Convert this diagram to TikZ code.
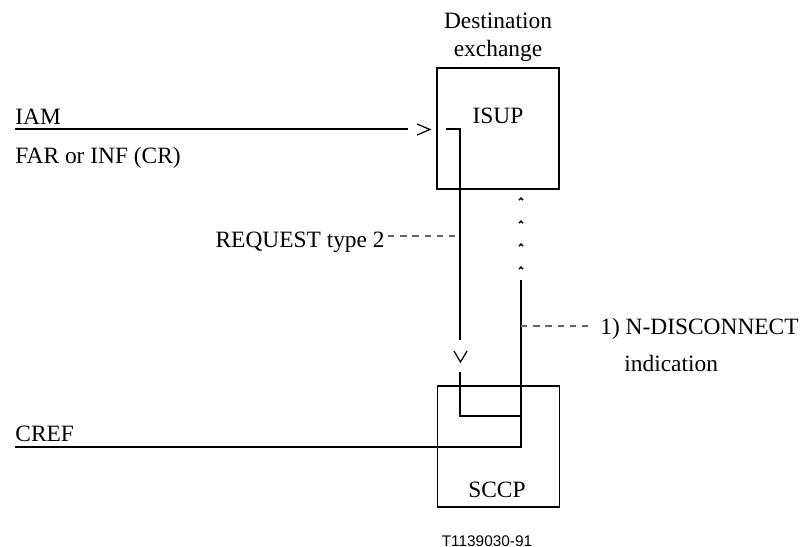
\documentclass[tikz,border=0pt]{standalone}
\usepackage{fontspec}
\setmainfont{Liberation Serif}
\newfontfamily\tagfont{Liberation Sans}
\usetikzlibrary{calc}

\begin{document}
\begin{tikzpicture}[x=0.5pt,y=-0.5pt,auto,
  every node/.style={font=\fontsize{11.7}{14}\selectfont,inner sep=0pt},
  blk/.style={draw,line width=0.7pt,minimum width=61pt,minimum height=60.5pt},
  sig/.style={line width=0.6pt},
  hint/.style={line width=0.6pt,draw=black!60,dash pattern=on 3.2pt off 2.9pt}]
\useasboundingbox (0,0) rectangle (805,547);

% the two boxes
\node[blk] (isup) at (498,128.5) {};
\node[blk] (sccp) at (498.5,446.5) {};
\node[anchor=base] (isup_lbl) at (498,123) {ISUP};
\node[anchor=base] (sccp_lbl) at (497,497) {SCCP};
\node[align=center] (dest) at ($ (isup.north) + (0,-30.5) $) {Destination\\exchange};

% incoming IAM
\coordinate (iam_a) at (15,129);
\coordinate (iam_b) at (408,129);
\node[anchor=base west] (iam) at (15,124) {IAM};
\node[anchor=base west] (far) at (15,163) {FAR or INF (CR)};
\draw[sig] (iam_a) to (iam_b);
\coordinate (gt) at (430,129.5);
\draw[sig] ($ (gt) + (-13,-5.5) $) -- (gt) -- ($ (gt) + (-13,5.5) $);

% ISUP down to SCCP
\coordinate (in_a) at (446,129);
\coordinate (in_b) at (460,129);
\coordinate (in_c) at (460,340);
\draw[sig] (in_a) -- (in_b) -- (in_c);
\coordinate (vee) at (460.5,362);
\draw[sig] ($ (vee) + (-6.5,-11) $) -- (vee) -- ($ (vee) + (6.5,-11) $);
\coordinate (in_d) at (460,372);
\coordinate (in_e) at (460,416);
\coordinate (in_f) at (521,416);
\draw[sig] (in_d) -- (in_e) -- (in_f);

% SCCP back out as CREF
\coordinate (ret_a) at (521,280);
\coordinate (ret_b) at (521,447);
\coordinate (cref_a) at (15,447);
\draw[sig] (ret_a) -- (ret_b) -- (cref_a);
\node[anchor=base west] (cref) at (15,441) {CREF};
\foreach \y in {199,222,245,268}
  \draw[line width=0.7pt] (519,\y+1.2) -- (521,\y-1) -- (523,\y+1.2);

% dashed call-outs
\node[anchor=base east] (req) at (385,247) {REQUEST type 2};
\coordinate (req_a) at (388,236);
\draw[hint] (req_a) -- (in_b |- req_a);
\coordinate (disc_a) at (589,326);
\draw[hint] (ret_a |- disc_a) -- (disc_a);
\node[anchor=base west] (ndisc) at (600,334) {1) N-DISCONNECT};
\node[anchor=base west] (ind) at (624,371) {indication};

\node[anchor=base] (tag) at (487,546) {\tagfont\fontsize{7.7}{9}\selectfont T1139030-91};
\end{tikzpicture}
\end{document}
